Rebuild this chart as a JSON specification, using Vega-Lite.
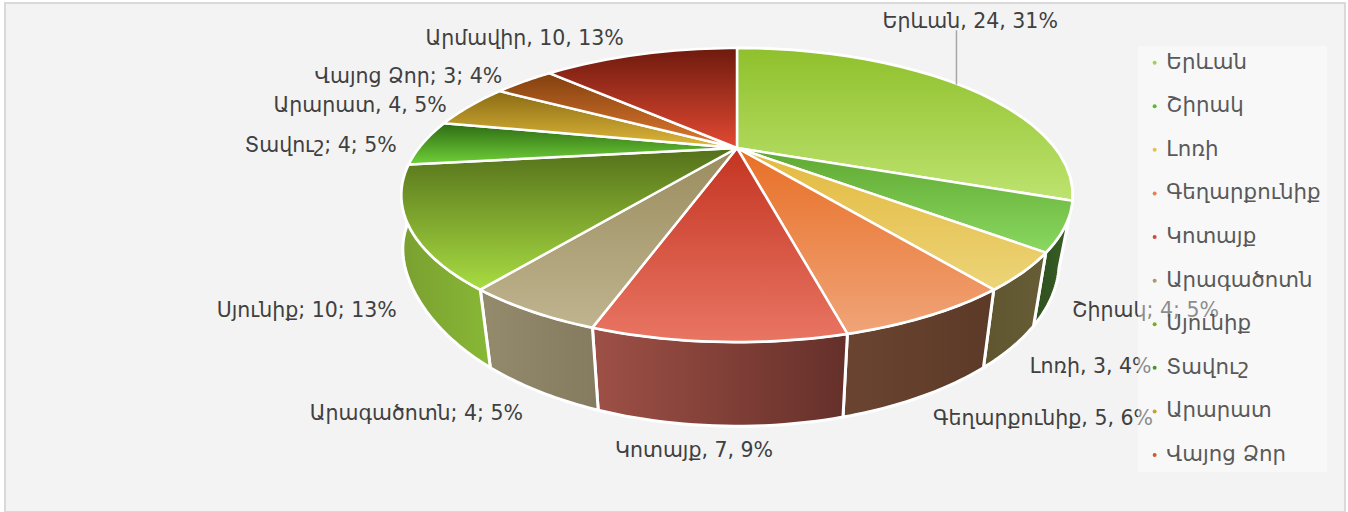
{"$schema":"https://vega.github.io/schema/vega-lite/v6.json","width":1340,"height":509,"autosize":{"type":"none"},"padding":{"left":5,"top":3,"right":3,"bottom":0},"background":"white","view":{"fill":"#f3f3f3","stroke":"#d9d9d9","strokeWidth":2},"config":{"font":"DejaVu Sans"},
"data":{"values":[
{"name":"Երևան","value":24,"label":"Երևան, 24, 31%"},
{"name":"Շիրակ","value":4,"label":"Շիրակ; 4; 5%"},
{"name":"Լոռի","value":3,"label":"Լոռի, 3, 4%"},
{"name":"Գեղարքունիք","value":5,"label":"Գեղարքունիք, 5, 6%"},
{"name":"Կոտայք","value":7,"label":"Կոտայք, 7, 9%"},
{"name":"Արագածոտն","value":4,"label":"Արագածոտն; 4; 5%"},
{"name":"Սյունիք","value":10,"label":"Սյունիք; 10; 13%"},
{"name":"Տավուշ","value":4,"label":"Տավուշ; 4; 5%"},
{"name":"Արարատ","value":4,"label":"Արարատ, 4, 5%"},
{"name":"Վայոց Ձոր","value":3,"label":"Վայոց Ձոր; 3; 4%"},
{"name":"Արմավիր","value":10,"label":"Արմավիր, 10, 13%"}]},
"transform":[
{"stack":"value","groupby":[],"as":["v0","v1"]},
{"joinaggregate":[{"op":"sum","field":"value","as":"total"}]},
{"calculate":"2*PI*datum.v0/datum.total","as":"th0"},
{"calculate":"2*PI*datum.v1/datum.total","as":"th1"},
{"calculate":"(datum.th0+datum.th1)/2","as":"mid"},
{"calculate":"sin(datum.mid)","as":"ms"},
{"calculate":"cos(datum.mid)","as":"mc"},
{"calculate":"1+0.32*datum.mc","as":"mw"},
{"calculate":"173-189*datum.mc/datum.mw+(datum.mc<0?34*datum.ms*datum.ms:-20*pow(datum.ms,16))-(datum.mid<PI/2?59:0)","as":"ly"},
{"calculate":"datum.mid<PI/2?737+209*datum.ms/datum.mw:datum.mid<PI?737+325*datum.ms/datum.mw:abs(datum.ms)<0.1?737-610*datum.ms/datum.mw:737+(datum.mc>=0?345+40*pow(datum.mc,4):330)*datum.ms/datum.mw","as":"lx"}
],
"layer":[
{"transform":[
{"filter":"datum.mid>PI/4&&datum.mid<1.6*PI"},
{"calculate":"sequence(0,53)","as":"i"},{"flatten":["i"]},
{"calculate":"datum.i<=25?datum.th0+(datum.th1-datum.th0)*datum.i/25:datum.i<=51?datum.th1-(datum.th1-datum.th0)*(datum.i-26)/25:datum.th0","as":"th"},
{"calculate":"1+0.32*cos(datum.th)","as":"w"},
{"calculate":"(datum.i>25&&datum.i<52)?737+(0.96+(datum.th>PI?0.05*pow(sin(datum.th),8):0))*318*sin(datum.th)/datum.w:737+318*sin(datum.th)/datum.w","as":"px"},
{"calculate":"(datum.i>25&&datum.i<52)?209-1.12*131.9*cos(datum.th)/datum.w:148-131.9*cos(datum.th)/datum.w","as":"py"}],
"encoding":{"x":{"field":"px","type":"quantitative","scale":{"domain":[5,1345]},"axis":null},"y":{"field":"py","type":"quantitative","scale":{"domain":[512,3]},"axis":null},"order":{"field":"i","type":"quantitative"}},
"layer":[
{"transform":[{"filter":"datum.name=='Երևան'"}],"mark":{"type":"line","stroke":"white","strokeWidth":3,"strokeJoin":"round","fill":{"gradient":"linear","x1":0,"y1":0,"x2":1,"y2":0,"stops":[{"offset":0,"color":"#6f9a2f"},{"offset":1,"color":"#3a5a20"}]}}},
{"transform":[{"filter":"datum.name=='Շիրակ'"}],"mark":{"type":"line","stroke":"white","strokeWidth":3,"strokeJoin":"round","fill":{"gradient":"linear","x1":0,"y1":0,"x2":1,"y2":0,"stops":[{"offset":0,"color":"#2d4f1c"},{"offset":1,"color":"#3a6028"}]}}},
{"transform":[{"filter":"datum.name=='Լոռի'"}],"mark":{"type":"line","stroke":"white","strokeWidth":3,"strokeJoin":"round","fill":{"gradient":"linear","x1":0,"y1":0,"x2":1,"y2":0,"stops":[{"offset":0,"color":"#5f5630"},{"offset":1,"color":"#665c35"}]}}},
{"transform":[{"filter":"datum.name=='Գեղարքունիք'"}],"mark":{"type":"line","stroke":"white","strokeWidth":3,"strokeJoin":"round","fill":{"gradient":"linear","x1":0,"y1":0,"x2":1,"y2":0,"stops":[{"offset":0,"color":"#6a4430"},{"offset":1,"color":"#5c3a28"}]}}},
{"transform":[{"filter":"datum.name=='Կոտայք'"}],"mark":{"type":"line","stroke":"white","strokeWidth":3,"strokeJoin":"round","fill":{"gradient":"linear","x1":0,"y1":0,"x2":1,"y2":0,"stops":[{"offset":0,"color":"#9e5046"},{"offset":1,"color":"#65302a"}]}}},
{"transform":[{"filter":"datum.name=='Արագածոտն'"}],"mark":{"type":"line","stroke":"white","strokeWidth":3,"strokeJoin":"round","fill":{"gradient":"linear","x1":0,"y1":0,"x2":1,"y2":0,"stops":[{"offset":0,"color":"#948a6c"},{"offset":1,"color":"#847b60"}]}}},
{"transform":[{"filter":"datum.name=='Սյունիք'"}],"mark":{"type":"line","stroke":"white","strokeWidth":3,"strokeJoin":"round","fill":{"gradient":"linear","x1":0,"y1":0,"x2":1,"y2":0,"stops":[{"offset":0,"color":"#7aa030"},{"offset":1,"color":"#88b836"}]}}}
]},
{"transform":[
{"calculate":"sequence(-1,27)","as":"i"},{"flatten":["i"]},
{"calculate":"datum.th0+(datum.th1-datum.th0)*datum.i/25","as":"th"},
{"calculate":"1+0.32*cos(datum.th)","as":"w"},
{"calculate":"(datum.i<0||datum.i>25)?737:737+318*sin(datum.th)/datum.w","as":"px"},
{"calculate":"(datum.i<0||datum.i>25)?148:148-131.9*cos(datum.th)/datum.w","as":"py"}],
"encoding":{"x":{"field":"px","type":"quantitative","scale":{"domain":[5,1345]},"axis":null},"y":{"field":"py","type":"quantitative","scale":{"domain":[512,3]},"axis":null},"order":{"field":"i","type":"quantitative"}},
"layer":[
{"transform":[{"filter":"datum.name=='Երևան'"}],"mark":{"type":"line","stroke":"white","strokeWidth":2.5,"strokeJoin":"round","fill":{"gradient":"linear","x1":0,"y1":0,"x2":0,"y2":1,"stops":[{"offset":0,"color":"#8fc02c"},{"offset":1,"color":"#bde36f"}]}}},
{"transform":[{"filter":"datum.name=='Շիրակ'"}],"mark":{"type":"line","stroke":"white","strokeWidth":2.5,"strokeJoin":"round","fill":{"gradient":"linear","x1":0,"y1":0,"x2":0,"y2":1,"stops":[{"offset":0,"color":"#5fa832"},{"offset":1,"color":"#8ad860"}]}}},
{"transform":[{"filter":"datum.name=='Լոռի'"}],"mark":{"type":"line","stroke":"white","strokeWidth":2.5,"strokeJoin":"round","fill":{"gradient":"linear","x1":0,"y1":0,"x2":0,"y2":1,"stops":[{"offset":0,"color":"#e3b93f"},{"offset":1,"color":"#ecd478"}]}}},
{"transform":[{"filter":"datum.name=='Գեղարքունիք'"}],"mark":{"type":"line","stroke":"white","strokeWidth":2.5,"strokeJoin":"round","fill":{"gradient":"linear","x1":0,"y1":0,"x2":0,"y2":1,"stops":[{"offset":0,"color":"#e86f26"},{"offset":1,"color":"#f0a478"}]}}},
{"transform":[{"filter":"datum.name=='Կոտայք'"}],"mark":{"type":"line","stroke":"white","strokeWidth":2.5,"strokeJoin":"round","fill":{"gradient":"linear","x1":0,"y1":0,"x2":0,"y2":1,"stops":[{"offset":0,"color":"#c43422"},{"offset":1,"color":"#e97563"}]}}},
{"transform":[{"filter":"datum.name=='Արագածոտն'"}],"mark":{"type":"line","stroke":"white","strokeWidth":2.5,"strokeJoin":"round","fill":{"gradient":"linear","x1":0,"y1":0,"x2":0,"y2":1,"stops":[{"offset":0,"color":"#9a8c5e"},{"offset":1,"color":"#bfb48f"}]}}},
{"transform":[{"filter":"datum.name=='Սյունիք'"}],"mark":{"type":"line","stroke":"white","strokeWidth":2.5,"strokeJoin":"round","fill":{"gradient":"linear","x1":0,"y1":0,"x2":0,"y2":1,"stops":[{"offset":0,"color":"#54701a"},{"offset":1,"color":"#a8dc42"}]}}},
{"transform":[{"filter":"datum.name=='Տավուշ'"}],"mark":{"type":"line","stroke":"white","strokeWidth":2.5,"strokeJoin":"round","fill":{"gradient":"linear","x1":0,"y1":0,"x2":0,"y2":1,"stops":[{"offset":0,"color":"#2d6a14"},{"offset":1,"color":"#70d038"}]}}},
{"transform":[{"filter":"datum.name=='Արարատ'"}],"mark":{"type":"line","stroke":"white","strokeWidth":2.5,"strokeJoin":"round","fill":{"gradient":"linear","x1":0,"y1":0,"x2":0,"y2":1,"stops":[{"offset":0,"color":"#8a6b14"},{"offset":1,"color":"#e0b83a"}]}}},
{"transform":[{"filter":"datum.name=='Վայոց Ձոր'"}],"mark":{"type":"line","stroke":"white","strokeWidth":2.5,"strokeJoin":"round","fill":{"gradient":"linear","x1":0,"y1":0,"x2":0,"y2":1,"stops":[{"offset":0,"color":"#82400f"},{"offset":1,"color":"#e07a30"}]}}},
{"transform":[{"filter":"datum.name=='Արմավիր'"}],"mark":{"type":"line","stroke":"white","strokeWidth":2.5,"strokeJoin":"round","fill":{"gradient":"linear","x1":0,"y1":0,"x2":0,"y2":1,"stops":[{"offset":0,"color":"#6e1a0e"},{"offset":1,"color":"#e24a32"}]}}}
]},
{"transform":[{"filter":"datum.mid<PI/2"},{"calculate":"148-131.9*datum.mc/datum.mw","as":"ey"},{"calculate":"datum.ly+8","as":"ty"},{"calculate":"737+318*datum.ms/datum.mw-2","as":"ex"}],
"mark":{"type":"rule","color":"#a6a6a6","strokeWidth":1.5},
"encoding":{"x":{"field":"ex","type":"quantitative","scale":{"domain":[5,1345]},"axis":null},"y":{"field":"ey","type":"quantitative","scale":{"domain":[512,3]},"axis":null},"y2":{"field":"ty"}}},
{"transform":[{"filter":"datum.mid<PI"}],"mark":{"type":"text","align":"left","baseline":"middle","fontSize":20.5,"color":"#404040"},
"encoding":{"x":{"field":"lx","type":"quantitative","scale":{"domain":[5,1345]},"axis":null},"y":{"field":"ly","type":"quantitative","scale":{"domain":[512,3]},"axis":null},"text":{"field":"label"}}},
{"transform":[{"filter":"datum.mid>=PI"}],"mark":{"type":"text","align":"right","baseline":"middle","fontSize":20.5,"color":"#404040"},
"encoding":{"x":{"field":"lx","type":"quantitative","scale":{"domain":[5,1345]},"axis":null},"y":{"field":"ly","type":"quantitative","scale":{"domain":[512,3]},"axis":null},"text":{"field":"label"}}},
{"mark":{"type":"point","filled":true,"size":0},
"encoding":{"color":{"field":"name","type":"nominal","scale":{"domain":["Երևան","Շիրակ","Լոռի","Գեղարքունիք","Կոտայք","Արագածոտն","Սյունիք","Տավուշ","Արարատ","Վայոց Ձոր","Արմավիր"],"range":["#a4cf4f","#5fb832","#e8c04a","#e8824a","#d14a38","#a89a6e","#7fa82a","#3f9a20","#c8a030","#c86028","#c83a28"]},
"legend":{"orient":"none","legendX":1133,"legendY":43,"title":null,"values":["Երևան","Շիրակ","Լոռի","Գեղարքունիք","Կոտայք","Արագածոտն","Սյունիք","Տավուշ","Արարատ","Վայոց Ձոր"],"symbolType":"circle","symbolSize":16,"symbolOpacity":1,"labelFont":"DejaVu Sans","labelFontSize":21.3,"labelColor":"#595959","labelLimit":300,"rowPadding":21.6,"fillColor":"rgba(255,255,255,0.4)","padding":6,"labelOffset":1}}}}
]}
